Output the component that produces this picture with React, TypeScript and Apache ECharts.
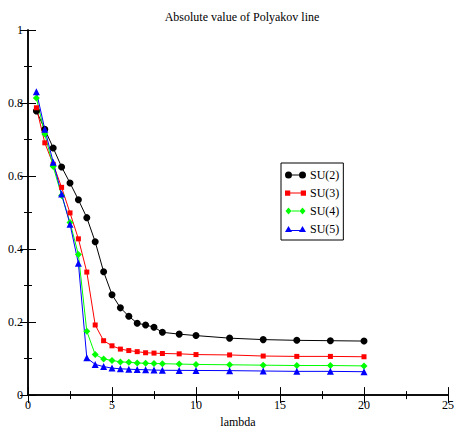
import React, { useEffect, useRef } from "react";
import * as echarts from "echarts";

const lambdaValues = [0.5, 1, 1.5, 2, 2.5, 3, 3.5, 4, 4.5, 5, 5.5, 6, 6.5, 7, 7.5, 8, 9, 10, 12, 14, 16, 18, 20];
const su2 = [0.778, 0.728, 0.677, 0.625, 0.581, 0.535, 0.486, 0.420, 0.338, 0.275, 0.239, 0.216, 0.197, 0.192, 0.186, 0.172, 0.167, 0.163, 0.156, 0.152, 0.150, 0.149, 0.148];
const su3 = [0.787, 0.691, 0.632, 0.569, 0.499, 0.428, 0.337, 0.192, 0.149, 0.135, 0.126, 0.122, 0.119, 0.116, 0.115, 0.114, 0.113, 0.111, 0.110, 0.107, 0.106, 0.106, 0.105];
const su4 = [0.814, 0.715, 0.626, 0.547, 0.473, 0.385, 0.175, 0.111, 0.099, 0.095, 0.091, 0.090, 0.088, 0.087, 0.0865, 0.086, 0.085, 0.084, 0.083, 0.082, 0.081, 0.081, 0.080];
const su5 = [0.831, 0.728, 0.638, 0.551, 0.468, 0.361, 0.102, 0.084, 0.078, 0.074, 0.072, 0.071, 0.070, 0.0695, 0.0685, 0.068, 0.0677, 0.0675, 0.067, 0.066, 0.065, 0.065, 0.064];
const seriesNames = ["SU(2)", "SU(3)", "SU(4)", "SU(5)"];
const seriesColors = ["#000000", "#ff0000", "#00ff00", "#0000ff"];
const titleText = "Absolute value of Polyakov line";
const xAxisName = "lambda";

const FONT = "'Liberation Serif', 'Times New Roman', serif";

export default function App() {
  const ref = useRef<HTMLDivElement>(null);
  useEffect(() => {
    if (!ref.current) return;
    const chart = echarts.init(ref.current, undefined, { renderer: "svg" });
    const datasets = [su2, su3, su4, su5];
    const symbols = ["circle", "rect", "diamond", "triangle"];
    const sizes = [7, 5, 7, 7];
    const icons = [
      "path://M0,3.5a3.5,3.5 0 1,0 7,0a3.5,3.5 0 1,0 -7,0Z M14,3.5a3.5,3.5 0 1,0 7,0a3.5,3.5 0 1,0 -7,0Z M7,3h7v1h-7Z",
      "path://M0.5,1h5v5h-5Z M15.5,1h5v5h-5Z M5.5,3h10v1h-10Z",
      "path://M3.5,0L6.5,3.5L3.5,7L0.5,3.5Z M17.5,0L20.5,3.5L17.5,7L14.5,3.5Z M6.5,3h8v1h-8Z",
      "path://M3.5,0.5L7,6.5L0,6.5Z M17.5,0.5L21,6.5L14,6.5Z M5,4.5h11v1h-11Z",
    ];
    const axisLine = { show: true, lineStyle: { color: "#000", width: 1.5 } };
    const axisTick = { show: true, inside: true, length: 8, lineStyle: { color: "#000", width: 1 } };
    const minorTick = { show: true, splitNumber: 2, length: 4, lineStyle: { color: "#000", width: 1 } };
    const label = { color: "#000", fontFamily: FONT, fontSize: 12 };
    chart.setOption({
      animation: false,
      backgroundColor: "#fff",
      title: {
        text: titleText,
        left: 237,
        textAlign: "center",
        top: 6,
        textStyle: { fontFamily: FONT, fontSize: 12, fontWeight: "normal", color: "#000" },
      },
      legend: {
        orient: "vertical",
        left: 281,
        top: 163,
        padding: [6, 4, 5, 4],
        borderColor: "#000",
        borderWidth: 1,
        itemWidth: 21,
        itemHeight: 7,
        itemGap: 6,
        textStyle: { fontFamily: FONT, fontSize: 12, color: "#000", padding: [0, 0, 0, -1] },
        data: seriesNames.map((n, i) => ({ name: n, icon: icons[i], itemStyle: { color: seriesColors[i] } })),
      },
      grid: { left: 28, right: 9, top: 30, bottom: 32, containLabel: false },
      xAxis: [
        {
          type: "value",
          min: 0,
          max: 25,
          interval: 5,
          position: "bottom",
          name: xAxisName,
          nameLocation: "middle",
          nameGap: 20,
          nameTextStyle: { fontFamily: FONT, fontSize: 12, color: "#000" },
          axisLine,
          axisTick,
          minorTick,
          splitLine: { show: false },
          axisLabel: { ...label, margin: 4 },
        },
        {
          type: "value",
          min: 0,
          max: 25,
          interval: 5,
          position: "top",
          axisLine,
          axisTick,
          minorTick,
          splitLine: { show: false },
          axisLabel: { show: false },
        },
      ],
      yAxis: [
        {
          type: "value",
          min: 0,
          max: 1,
          interval: 0.2,
          position: "left",
          axisLine,
          axisTick,
          minorTick,
          splitLine: { show: false },
          axisLabel: { ...label, margin: 5 },
        },
        {
          type: "value",
          min: 0,
          max: 1,
          interval: 0.2,
          position: "right",
          axisLine,
          axisTick,
          minorTick,
          splitLine: { show: false },
          axisLabel: { show: false },
        },
      ],
      series: datasets.map((d, i) => ({
        name: seriesNames[i],
        type: "line",
        xAxisIndex: 0,
        yAxisIndex: 0,
        data: lambdaValues.map((x, j) => [x, d[j]]),
        symbol: symbols[i],
        symbolSize: sizes[i],
        showAllSymbol: true,
        lineStyle: { color: seriesColors[i], width: 1 },
        itemStyle: { color: seriesColors[i] },
        emphasis: { disabled: true },
      })),
    });
    return () => chart.dispose();
  }, []);
  return (
    <div
      ref={ref}
      style={{ position: "absolute", left: 0, top: 0, width: 457, height: 433 }}
    />
  );
}
